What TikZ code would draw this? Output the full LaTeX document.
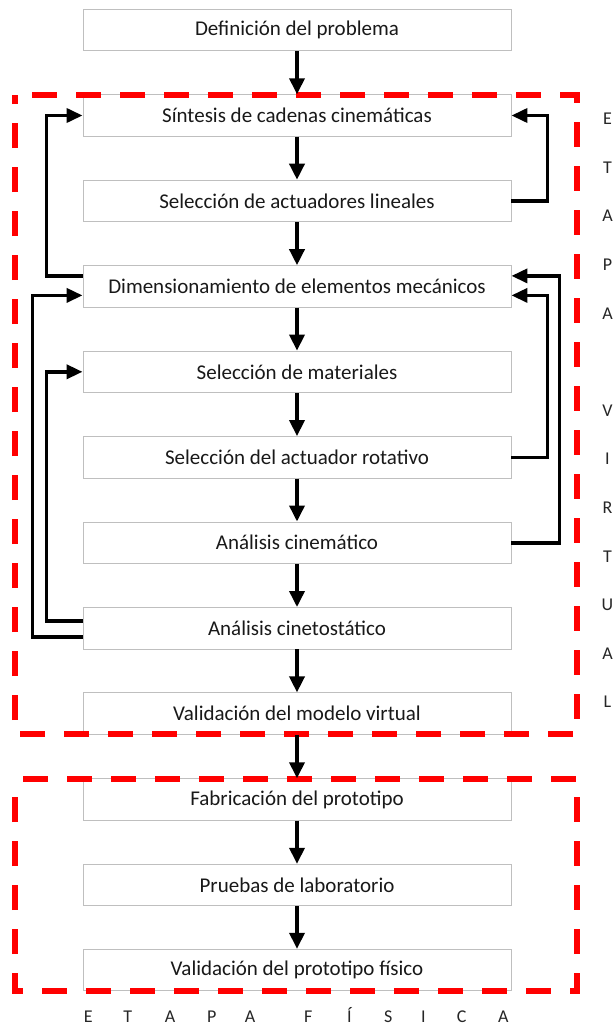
\documentclass[tikz,border=0pt]{standalone}
\usepackage{fontspec}
\setmainfont{Carlito}
\usetikzlibrary{arrows.meta}
\begin{document}
\begin{tikzpicture}[x=1pt,y=-1pt,
  box/.style={draw=black!25,line width=0.9pt,fill=white,minimum width=428pt,minimum height=41.5pt,inner sep=0pt,font=\fontsize{21pt}{25pt}\selectfont,text=black!90},
  arr/.style={line width=3.6pt,-{Triangle[length=16pt,width=15pt]}},
  fb/.style={line width=3.6pt,-{Triangle[length=16pt,width=14pt]}},
  reddash/.style={draw=red,line width=6pt,dash pattern=on 25pt off 19pt},
  side/.style={font=\fontsize{18pt}{21pt}\selectfont,text=black!85,inner sep=0pt}]
\useasboundingbox (0,0) rectangle (613,1025);
\fill[white] (0,0) rectangle (613,1025);
% boxes
\node[box] (b1) at (297,30) {Definición del problema};
\node[box] (b2) at (297,115.5) {Síntesis de cadenas cinemáticas};
\node[box] (b3) at (297,200.9) {Selección de actuadores lineales};
\node[box] (b4) at (297,286.4) {Dimensionamiento de elementos mecánicos};
\node[box] (b5) at (297,371.8) {Selección de materiales};
\node[box] (b6) at (297,457.3) {Selección del actuador rotativo};
\node[box] (b7) at (297,542.7) {Análisis cinemático};
\node[box] (b8) at (297,628.2) {Análisis cinetostático};
\node[box] (b9) at (297,713.6) {Validación del modelo virtual};
\node[box] (b10) at (297,799.5) {Fabricación del prototipo};
\node[box] (b11) at (297,885) {Pruebas de laboratorio};
\node[box] (b12) at (297,970) {Validación del prototipo físico};
% red dashed frames
\draw[reddash,dash phase=27pt] (15,95) -- (577,95) -- (577,734) -- (15,734) -- cycle;
\draw[reddash,dash phase=36pt] (15,779) -- (577,779) -- (577,990.5) -- (15,990.5) -- cycle;
% main arrows
\foreach \a/\b in {b1/b2,b2/b3,b3/b4,b4/b5,b5/b6,b6/b7,b7/b8,b8/b9,b9/b10,b10/b11,b11/b12}
  \draw[arr] (\a.south) -- (\b.north);
% feedback arrows
\draw[fb] (b3.east) -- ++(36,0) |- (b2.east);
\draw[fb] ([yshift=10.5pt]b4.west) -- ++(-36,0) |- (b2.west);
\draw[fb] ([yshift=7pt]b8.west) -- ++(-36,0) |- (b5.west);
\draw[fb] ([yshift=-8.5pt]b8.west) -- ++(-50,0) |- ([yshift=-9pt]b4.west);
\draw[fb] (b6.east) -- ++(36,0) |- ([yshift=-9pt]b4.east);
\draw[fb] (b7.east) -- ++(48,0) |- ([yshift=10.5pt]b4.east);
% side label
\foreach \l [count=\i from 0] in {E,T,A,P,A,{},V,I,R,T,U,A,L}
  \node[side] (s\i) at (607.5,119+48.6*\i) {\l};
% bottom label
\foreach \l/\x [count=\i] in {E/88.3,T/127.7,A/170,P/211.7,A/250,F/308.3,Í/349.3,S/388.3,I/423.3,C/461.7,A/503.3}
  \node[side,anchor=base] (f\i) at (\x,1022.5) {\l};
\end{tikzpicture}
\end{document}
